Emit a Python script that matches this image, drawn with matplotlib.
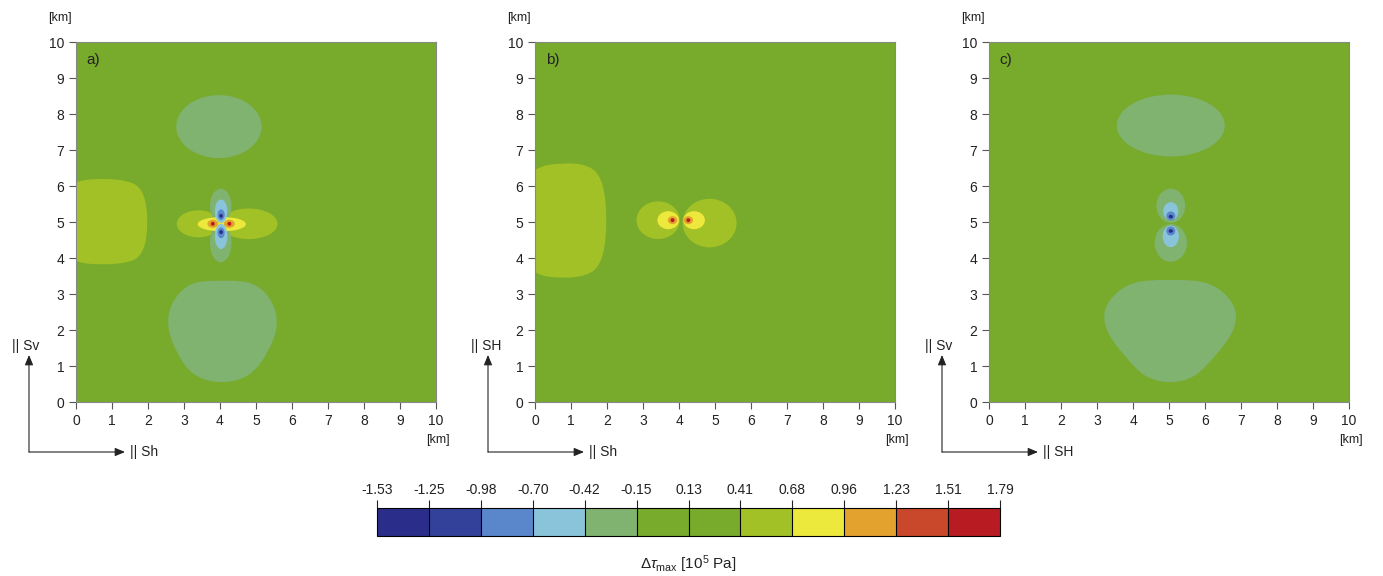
import matplotlib.pyplot as plt
from matplotlib.colors import ListedColormap, BoundaryNorm
from matplotlib.patches import Ellipse, PathPatch, FancyArrowPatch
from matplotlib.path import Path
from matplotlib.cm import ScalarMappable

plt.rcParams['font.family'] = ['Liberation Sans', 'DejaVu Sans']
plt.rcParams['mathtext.fontset'] = 'custom'
plt.rcParams['mathtext.rm'] = 'Liberation Sans'
plt.rcParams['mathtext.it'] = 'Liberation Sans:italic'

# colour classes of delta tau_max [10^5 Pa]
levels = [-1.53, -1.25, -0.98, -0.70, -0.42, -0.15, 0.13, 0.41, 0.68, 0.96, 1.23, 1.51, 1.79]
class_colors = ['#2a2e8a', '#33419a', '#5a87cc', '#8ac4da', '#7fb36f', '#78aa2b',
                '#78aa2b', '#a2c126', '#ece83c', '#e3a12e', '#c9472a', '#b81c22']
background_value = 0.0

# larger zones: outline control points (smoothed), value
a_left_x = [-0.5, 1.2, 1.98, 1.98, 1.2, -0.5]
a_left_y = [6.12, 6.24, 5.9, 4.1, 3.78, 3.9]
a_left_v = 0.55
a_low_x = [4.05, 5.15, 5.72, 5.15, 4.5, 3.6, 2.95, 2.42, 3.0]
a_low_y = [3.4, 3.3, 2.25, 1.0, 0.55, 0.55, 1.0, 2.3, 3.3]
a_low_v = -0.3

b_left_x = [-0.5, 1.25, 1.98, 1.98, 1.25, -0.5]
b_left_y = [6.45, 6.72, 6.2, 3.9, 3.38, 3.58]
b_left_v = 0.55

c_low_x = [5.03, 6.35, 7.08, 6.0, 5.4, 4.65, 4.05, 2.98, 3.72]
c_low_y = [3.42, 3.32, 2.3, 0.9, 0.55, 0.55, 0.9, 2.3, 3.32]
c_low_v = -0.3

# smaller zones as ellipses: centre x, centre y, width, height, value
a_x = [3.97, 3.40, 4.80, 4.02, 4.02, 4.05, 4.03, 4.03, 4.03, 4.03, 3.80, 4.26, 3.80, 4.26, 4.03, 4.03]
a_y = [7.65, 4.95, 4.95, 5.45, 4.43, 4.94, 5.30, 4.60, 5.20, 4.70, 4.95, 4.95, 4.95, 4.95, 5.17, 4.72]
a_w = [2.37, 1.20, 1.60, 0.60, 0.60, 1.34, 0.35, 0.35, 0.20, 0.20, 0.30, 0.30, 0.11, 0.11, 0.10, 0.10]
a_h = [1.75, 0.75, 0.85, 0.95, 1.10, 0.40, 0.65, 0.70, 0.30, 0.30, 0.22, 0.22, 0.11, 0.11, 0.11, 0.11]
a_v = [-0.3, 0.5, 0.5, -0.3, -0.3, 0.8, -0.55, -0.55, -0.85, -0.85, 1.1, 1.1, 1.7, 1.7, -1.4, -1.4]

b_x = [3.42, 4.85, 3.70, 4.42, 3.82, 4.26, 3.82, 4.26]
b_y = [5.05, 4.97, 5.05, 5.05, 5.05, 5.05, 5.05, 5.05]
b_w = [1.20, 1.50, 0.60, 0.60, 0.26, 0.26, 0.11, 0.11]
b_h = [1.05, 1.35, 0.50, 0.50, 0.22, 0.22, 0.11, 0.11]
b_v = [0.5, 0.5, 0.8, 0.8, 1.1, 1.1, 1.7, 1.7]

c_x = [5.05, 5.05, 5.05, 5.05, 5.05, 5.05, 5.05, 5.05, 5.05]
c_y = [7.68, 5.45, 4.42, 5.30, 4.60, 5.17, 4.75, 5.15, 4.75]
c_w = [3.00, 0.80, 0.90, 0.42, 0.45, 0.25, 0.25, 0.12, 0.12]
c_h = [1.72, 0.95, 1.05, 0.50, 0.60, 0.25, 0.25, 0.10, 0.10]
c_v = [-0.3, -0.3, -0.3, -0.55, -0.55, -0.85, -0.85, -1.4, -1.4]

panel_tags = ['a)', 'b)', 'c)']
vert_labels = ['|| Sv', '|| SH', '|| Sv']
horiz_labels = ['|| Sh', '|| Sh', '|| SH']

cmap = ListedColormap(class_colors)
norm = BoundaryNorm(levels, cmap.N)

W, H = 1383, 576
fig = plt.figure(figsize=(W / 100, H / 100), dpi=100)


def fpos(x, y):
    return x / W, 1 - y / H


def smooth_zone(xs, ys, value):
    # closed quadratic B-spline through the midpoints of the control polygon
    n = len(xs)
    mids = [((xs[k] + xs[(k + 1) % n]) / 2, (ys[k] + ys[(k + 1) % n]) / 2) for k in range(n)]
    verts = [mids[-1]]
    codes = [Path.MOVETO]
    for k in range(n):
        verts += [(xs[k], ys[k]), mids[k]]
        codes += [Path.CURVE3, Path.CURVE3]
    return PathPatch(Path(verts, codes), facecolor=cmap(norm(value)), edgecolor='none')


panel_left = [76, 535, 989]
panel_top = 42
panel_size = 360

zones = [[(a_left_x, a_left_y, a_left_v), (a_low_x, a_low_y, a_low_v)],
         [(b_left_x, b_left_y, b_left_v)],
         [(c_low_x, c_low_y, c_low_v)]]
ellipses = [(a_x, a_y, a_w, a_h, a_v), (b_x, b_y, b_w, b_h, b_v), (c_x, c_y, c_w, c_h, c_v)]

for i in range(3):
    left = panel_left[i]
    ax = fig.add_axes([left / W, 1 - (panel_top + panel_size) / H, panel_size / W, panel_size / H])
    ax.set_facecolor(cmap(norm(background_value)))
    for xs, ys, v in zones[i]:
        ax.add_patch(smooth_zone(xs, ys, v))
    for x, y, w, h, v in zip(*ellipses[i]):
        ax.add_patch(Ellipse((x, y), w, h, facecolor=cmap(norm(v)), edgecolor='none'))
    ax.set_xlim(0, 10)
    ax.set_ylim(0, 10)
    ax.set_xticks(range(11))
    ax.set_yticks(range(11))
    ax.tick_params(labelsize=10, length=5, width=0.8, color='#555555', labelcolor='#222222')
    for s in ax.spines.values():
        s.set_color('#888888')
        s.set_linewidth(0.8)
    ax.text(0.3, 9.5, panel_tags[i], fontsize=11, color='#222222', va='center')

    # [km] unit labels
    fig.text(*fpos(left - 16, 18), '[km]', fontsize=9, ha='center', va='center', color='#222222')
    fig.text(*fpos(left + panel_size + 2, 440), '[km]', fontsize=9, ha='center', va='center', color='#222222')

    # orientation arrows
    ox = left - 47
    oy = 452
    fig.add_artist(FancyArrowPatch(fpos(ox, oy), fpos(ox, 355), transform=fig.transFigure,
                                   arrowstyle='-|>,head_length=6,head_width=2.5', color='#222222',
                                   lw=0.8, shrinkA=0, shrinkB=0))
    fig.add_artist(FancyArrowPatch(fpos(ox, oy), fpos(ox + 96, oy), transform=fig.transFigure,
                                   arrowstyle='-|>,head_length=6,head_width=2.5', color='#222222',
                                   lw=0.8, shrinkA=0, shrinkB=0))
    fig.text(*fpos(ox - 17, 346), vert_labels[i], fontsize=10, ha='left', va='center', color='#222222')
    fig.text(*fpos(ox + 101, 452), horiz_labels[i], fontsize=10, ha='left', va='center', color='#222222')

# colour bar
cax = fig.add_axes([377 / W, 1 - 536 / H, 623 / W, 28 / H])
sm = ScalarMappable(norm=norm, cmap=cmap)
cb = fig.colorbar(sm, cax=cax, orientation='horizontal', ticks=levels, drawedges=True)
cb.ax.xaxis.set_ticks_position('top')
cb.ax.set_xticklabels([f'{v:.2f}' for v in levels])
cb.ax.tick_params(labelsize=10, length=6, width=0.8, pad=2, color='#222222', labelcolor='#222222')
cb.outline.set_linewidth(0.8)
cb.dividers.set_linewidth(0.8)
fig.text(*fpos(688, 564), r'$\Delta\tau_{\mathrm{max}}$ [10$^5$ Pa]', fontsize=11,
         ha='center', va='center', color='#222222')

fig.savefig('out.png', dpi=100)
